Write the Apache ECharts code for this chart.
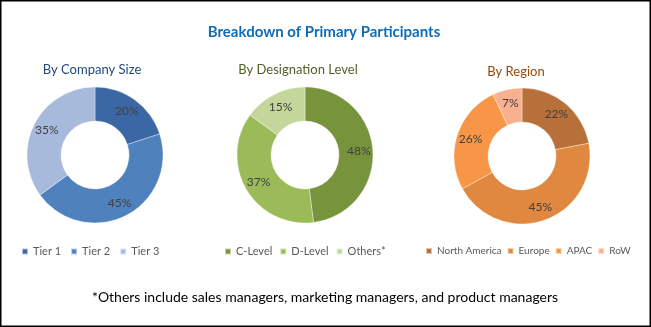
<!DOCTYPE html>
<html>
<head>
<meta charset="utf-8">
<script src="https://cdn.jsdelivr.net/npm/echarts@6/dist/echarts.min.js"></script>
<style>
  html, body { margin: 0; padding: 0; background: #fff; }
  #chart { width: 651px; height: 327px; }
</style>
</head>
<body>
<div id="chart"></div>
<script>
// Primary participant breakdown, three donuts
const companySizeNames = ['Tier 1', 'Tier 2', 'Tier 3'];
const companySizeValues = [20, 45, 35];
const companySizeColors = ['#3b68a4', '#4f81bd', '#a7badb'];

const designationNames = ['C-Level', 'D-Level', 'Others*'];
const designationValues = [48, 37, 15];
const designationColors = ['#77933c', '#9bbb59', '#c4d79b'];

const regionNames = ['North America', 'Europe', 'APAC', 'RoW'];
const regionValues = [22, 45, 26, 7];
const regionColors = ['#b8703a', '#e0883f', '#f79646', '#f9b08f'];

const FONT = 'Lato, "Liberation Sans", sans-serif';

function donut(names, values, colors, center) {
  return {
    type: 'pie',
    center: center,
    radius: [34, 68],
    startAngle: 90,
    clockwise: true,
    avoidLabelOverlap: false,
    itemStyle: { borderColor: 'rgba(255,255,255,0.6)', borderWidth: 0.6 },
    label: {
      show: true,
      position: 'inside',
      formatter: '{c}%',
      color: '#404040',
      fontFamily: FONT,
      fontSize: 12
    },
    labelLine: { show: false },
    emphasis: { disabled: true },
    data: names.map((n, i) => ({ name: n, value: values[i], itemStyle: { color: colors[i] } }))
  };
}

function legend(names, left, gap, size) {
  return {
    data: names,
    left: left,
    top: 241,
    width: 260,
    orient: 'horizontal',
    icon: 'rect',
    itemWidth: 6,
    itemHeight: 6,
    itemGap: gap,
    selectedMode: false,
    textStyle: { color: '#595959', fontFamily: FONT, fontSize: size }
  };
}

function label(text, x, y, color, size, weight) {
  return {
    type: 'text',
    x: x, y: y,
    style: {
      text: text,
      fill: color,
      font: (weight || 'normal') + ' ' + size + 'px ' + FONT,
      textAlign: 'center',
      textVerticalAlign: 'middle'
    }
  };
}

const chart = echarts.init(document.getElementById('chart'));
chart.setOption({
  animation: false,
  legend: [
    legend(companySizeNames, 16, 9, 11),
    legend(designationNames, 219, 7, 11),
    legend(regionNames, 420, 5, 10)
  ],
  series: [
    donut(companySizeNames, companySizeValues, companySizeColors, [95, 155]),
    donut(designationNames, designationValues, designationColors, [305, 155]),
    donut(regionNames, regionValues, regionColors, [522, 156])
  ],
  graphic: [
    {
      type: 'rect',
      shape: { x: 0.75, y: 0.75, width: 649.5, height: 325.5 },
      style: { fill: 'none', stroke: '#000', lineWidth: 1.5 },
      silent: true
    },
    label('Breakdown of Primary Participants', 324, 32, '#0f6cb6', 15, 'bold'),
    label('By Company Size', 92, 70, '#1f497d', 13),
    label('By Designation Level', 298, 70, '#4f6228', 13),
    label('By Region', 516, 72, '#984807', 13),
    label('*Others include sales managers, marketing managers, and product managers', 325, 297, '#000', 14)
  ]
});
</script>
</body>
</html>
